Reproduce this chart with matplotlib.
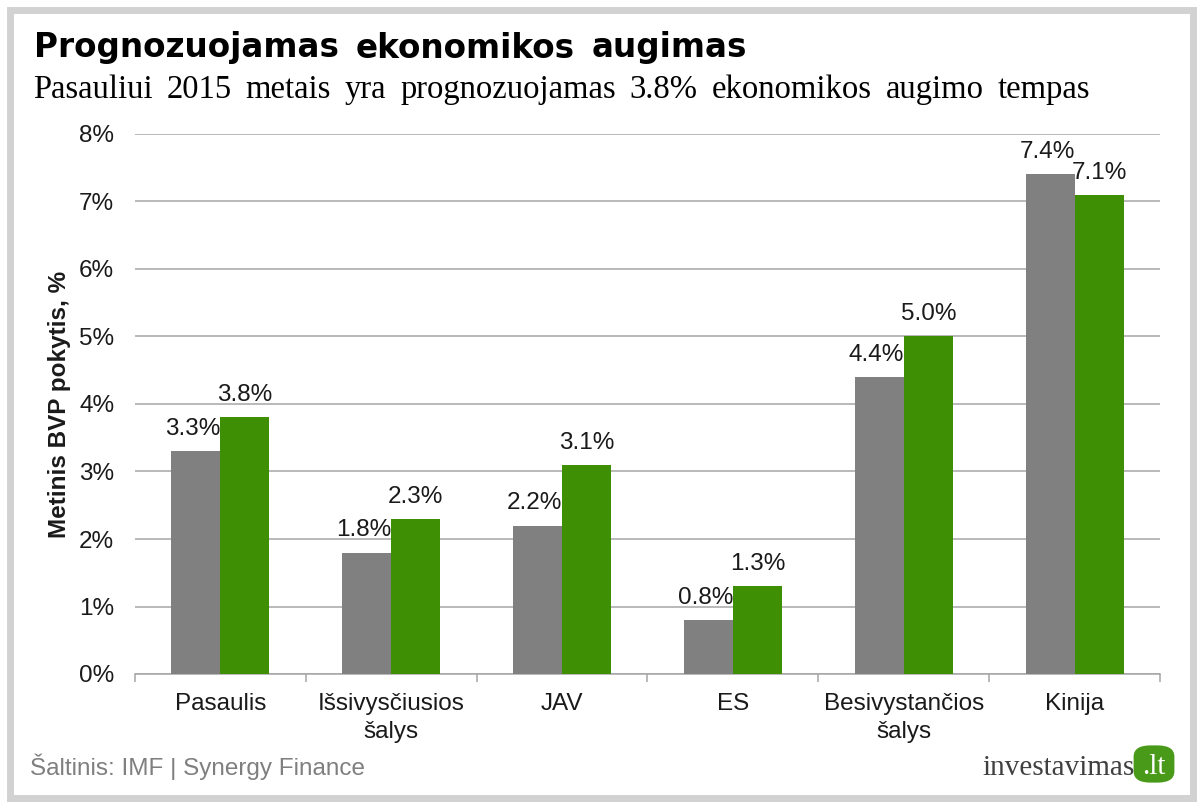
import matplotlib
matplotlib.use("Agg")
import matplotlib.pyplot as plt
from matplotlib.patches import Rectangle, FancyBboxPatch
import numpy as np

categories = ["Pasaulis", "Išsivysčiusios\nšalys", "JAV", "ES", "Besivystančios\nšalys", "Kinija"]
series_2014 = [3.3, 1.8, 2.2, 0.8, 4.4, 7.4]
series_2015 = [3.8, 2.3, 3.1, 1.3, 5.0, 7.1]
yticks = [0, 1, 2, 3, 4, 5, 6, 7, 8]
title = "Prognozuojamas ekonomikos augimas"
subtitle = "Pasauliui 2015 metais yra prognozuojamas 3.8% ekonomikos augimo tempas"

GRAY = "#808080"
GREEN = "#3F8F05"
FS = 17.5

W, H = 1200, 808
fig = plt.figure(figsize=(W / 100, H / 100), dpi=100)
fig.patch.set_facecolor("white")

def fx(px):
    return px / W
def fy(py):
    return 1 - py / H

fig.patches.append(Rectangle((fx(10), fy(798)), fx(1183), 788 / H, transform=fig.transFigure,
                             facecolor="white", edgecolor="#d2d2d2", linewidth=5, zorder=-5))

ax = fig.add_axes([fx(135), fy(674), fx(1160) - fx(135), (674 - 134) / H])
ax.set_zorder(2)
x = np.arange(len(categories))
bw = 0.287
b1 = ax.bar(x - bw / 2, series_2014, bw, color=GRAY, zorder=3)
b2 = ax.bar(x + bw / 2, series_2015, bw, color=GREEN, zorder=3)

for rects, vals, dx in ((b1, series_2014, -2), (b2, series_2015, 0)):
    for r, v in zip(rects, vals):
        ax.annotate(f"{v:.1f}%", (r.get_x() + r.get_width() / 2, v), xytext=(dx, 8),
                    textcoords="offset points", ha="center", va="bottom",
                    fontsize=FS, color="#1a1a1a", family="Liberation Sans", zorder=5)

ax.set_xlim(-0.5, len(categories) - 0.5)
ax.set_ylim(0, 8)
ax.set_yticks(yticks)
ax.set_yticklabels([f"{t}%" for t in yticks], fontsize=FS, family="Liberation Sans", color="#1a1a1a")
ax.yaxis.grid(True, color="#a6a6a6", linewidth=1.1, zorder=0)
ax.set_axisbelow(True)
ax.tick_params(axis="y", length=0, pad=15)

ax.set_xticks(x)
ax.set_xticklabels(categories, fontsize=FS, family="Liberation Sans", color="#1a1a1a", linespacing=1.35)
ax.tick_params(axis="x", length=0, pad=14)
ax.set_xticks(np.arange(-0.5, len(categories)), minor=True)
ax.tick_params(axis="x", which="minor", length=6, color="#a6a6a6", width=1.1)

for s in ("top", "right", "left"):
    ax.spines[s].set_visible(False)
ax.spines["bottom"].set_color("#a6a6a6")
ax.spines["bottom"].set_linewidth(1.1)

ax.set_ylabel("Metinis BVP pokytis, %", fontsize=FS, fontweight="bold", family="Liberation Sans",
              color="#1a1a1a", labelpad=6)

# justified titles
def justified(text, x0, x1, ypx, **kw):
    words = text.split(" ")
    arts = [fig.text(fx(x0), fy(ypx), w, va="center", ha="left", **kw) for w in words]
    fig.canvas.draw()
    r = fig.canvas.get_renderer()
    widths = [a.get_window_extent(r).width for a in arts]
    gap = (x1 - x0 - sum(widths)) / (len(words) - 1)
    pos = x0
    for a, wd in zip(arts, widths):
        a.set_x(fx(pos))
        pos += wd + gap

justified(title, 34, 747, 48, fontsize=23.5, fontweight="heavy", family="DejaVu Sans", color="black")
justified(subtitle, 33, 1090, 90, fontsize=23.5, family="Liberation Serif", color="black")

# source
fig.text(fx(30), fy(767), "Šaltinis: IMF | Synergy Finance", fontsize=FS, family="Liberation Sans",
         color="#7f7f7f", va="center", ha="left")

# logo
fig.patches.append(FancyBboxPatch((fx(1136), fy(781)), fx(36), 34 / H, transform=fig.transFigure,
                                  boxstyle="round,pad=0.002,rounding_size=0.014",
                                  facecolor="#4a9a1a", edgecolor="none", zorder=2))
fig.text(fx(1135), fy(768), "investavimas", fontsize=21, family="Liberation Serif",
         color="#404040", va="center", ha="right")
fig.text(fx(1154), fy(767), ".lt", fontsize=21, family="Liberation Serif",
         color="white", va="center", ha="center", zorder=3)

fig.savefig("out.png", dpi=100)
